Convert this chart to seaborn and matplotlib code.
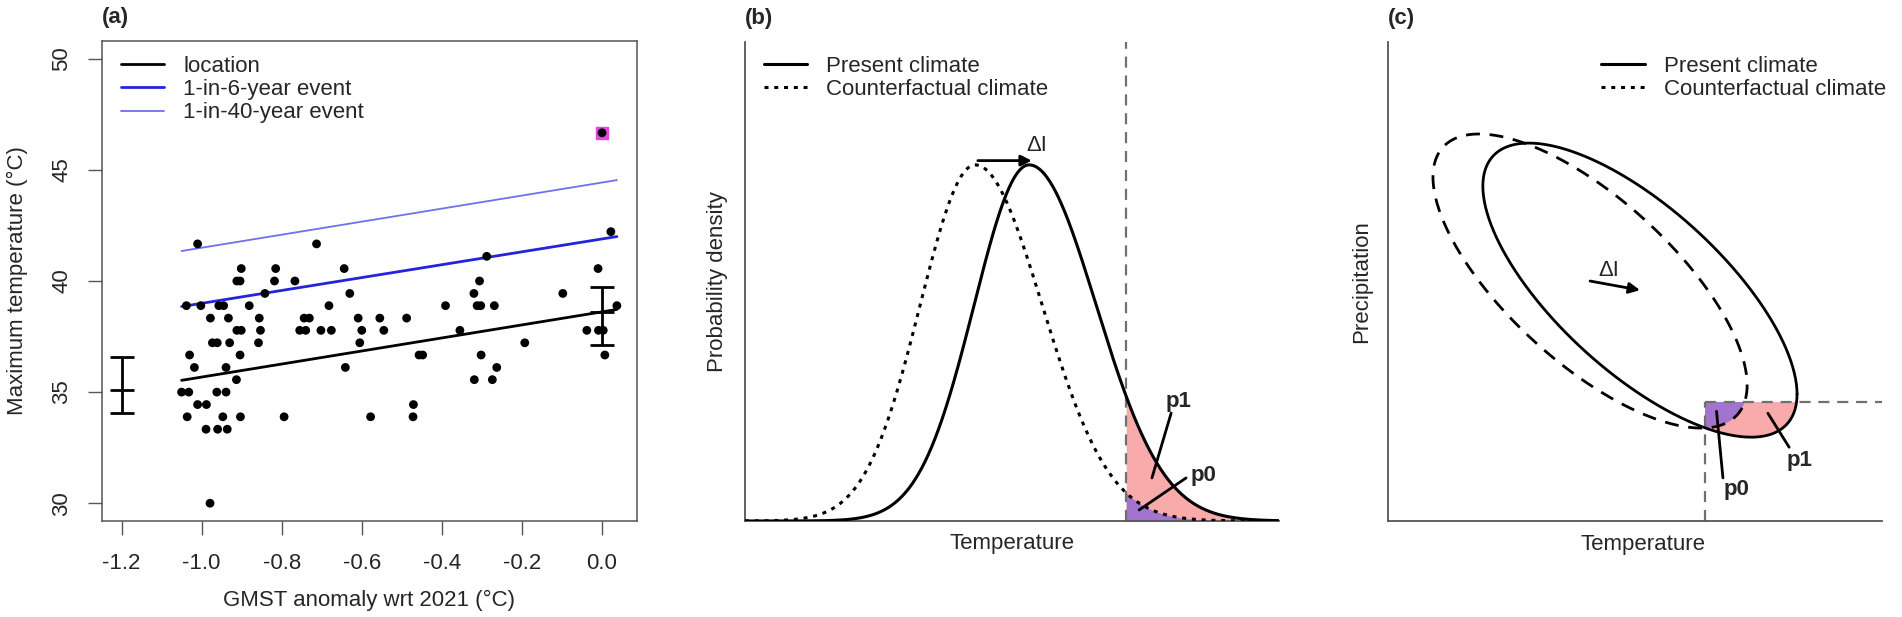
import numpy as np
import matplotlib
matplotlib.use("Agg")
import matplotlib.pyplot as plt
import seaborn as sns
from matplotlib.patches import Polygon, Rectangle

# ---------- panel (a) : observations ----------
gmst = [-1.010, -1.050, -1.032, -1.038, -1.036, -1.030, -1.018, -1.010, -1.002, -0.988,
        -0.989, -0.979, -0.978, -0.973, -0.961, -0.962, -0.960, -0.957, -0.945, -0.947,
        -0.939, -0.939, -0.936, -0.933, -0.930, -0.913, -0.912, -0.904, -0.901, -0.912,
        -0.901, -0.904, -0.903, -0.881, -0.858, -0.856, -0.853, -0.842, -0.815, -0.818,
        -0.794, -0.767, -0.755, -0.744, -0.740, -0.731, -0.713, -0.702, -0.682, -0.676,
        -0.644, -0.630, -0.641, -0.609, -0.600, -0.605, -0.578, -0.555, -0.545, -0.488,
        -0.471, -0.472, -0.457, -0.448, -0.391, -0.355, -0.320, -0.306, -0.312, -0.303,
        -0.288, -0.302, -0.319, -0.269, -0.263, -0.274, -0.193, 0.022, -0.010, -0.098,
        0.037, -0.038, -0.009, 0.003, 0.007]
tmax = [41.67, 35.00, 35.00, 38.89, 33.89, 36.67, 36.11, 34.44, 38.89, 34.44,
        33.33, 30.00, 38.33, 37.22, 37.22, 35.00, 33.33, 38.89, 38.89, 33.89,
        35.00, 36.11, 33.33, 38.33, 37.22, 35.56, 40.00, 40.00, 40.56, 37.78,
        37.78, 36.67, 33.89, 38.89, 37.22, 38.33, 37.78, 39.44, 40.56, 40.00,
        33.89, 40.00, 37.78, 38.33, 37.78, 38.33, 41.67, 37.78, 38.89, 37.78,
        40.56, 39.44, 36.11, 38.33, 37.78, 37.22, 33.89, 38.33, 37.78, 38.33,
        34.44, 33.89, 36.67, 36.67, 38.89, 37.78, 39.44, 40.00, 38.89, 38.89,
        41.11, 36.67, 35.56, 38.89, 36.11, 35.56, 37.22, 42.22, 40.56, 39.44,
        38.89, 37.78, 37.78, 37.78, 36.67]
event_gmst = [0.0]
event_tmax = [46.67]

fit_x = [-1.05, 0.037]
location_fit = [35.53, 38.72]
rp6_fit = [38.85, 42.00]
rp40_fit = [41.35, 44.54]

err_x = [-1.2, 0.0]
err_mid = [35.09, 38.62]
err_lo = [34.06, 37.13]
err_hi = [36.60, 39.73]

x_ticks_a = [-1.2, -1.0, -0.8, -0.6, -0.4, -0.2, 0.0]
y_ticks_a = [30, 35, 40, 45, 50]

# ---------- panel (b) : schematic pdfs ----------
present_mode = 5.32
counter_mode = 4.31
sd_left = 1.03
sd_right = 1.255
threshold_b = 7.135
p1_line_b = ([7.98, 7.62], [0.303, 0.121])
p0_line_b = ([8.26, 7.38], [0.121, 0.031])

# ---------- panel (c) : schematic bivariate ----------
present_centre = (5.10, 4.82)
counter_centre = (4.09, 5.01)
half_x, half_y = 3.18, 3.07
phase = np.pi / 4
thr_temp_c = 6.41
thr_prec_c = 2.49
p1_line_c = ([7.69, 8.12], [2.25, 1.54])
p0_line_c = ([6.65, 6.78], [2.29, 0.90])

pink = "#F9AAAA"
purple = "#A274CF"
txt = "#262626"
axcol = "#555555"

sns.set_theme(style="white")
plt.rcParams["font.family"] = ["Liberation Sans", "DejaVu Sans"]
plt.rcParams["axes.unicode_minus"] = False
plt.rcParams["text.color"] = txt
plt.rcParams["axes.labelcolor"] = txt
plt.rcParams["xtick.color"] = axcol
plt.rcParams["ytick.color"] = axcol
plt.rcParams["xtick.labelcolor"] = txt
plt.rcParams["ytick.labelcolor"] = txt
fs = 16

fig = plt.figure(figsize=(19.02, 6.17), dpi=100)
ax_a = fig.add_axes([0.05347, 0.15559, 0.28128, 0.77796])
ax_b = fig.add_axes([0.3917, 0.15559, 0.28076, 0.7763])
ax_c = fig.add_axes([0.72976, 0.15559, 0.25973, 0.7763])

# ---------------- (a) ----------------
ax = ax_a
sns.lineplot(x=fit_x, y=location_fit, ax=ax, color="black", lw=2, label="location")
sns.lineplot(x=fit_x, y=rp6_fit, ax=ax, color="#2424DD", lw=2, label="1-in-6-year event")
sns.lineplot(x=fit_x, y=rp40_fit, ax=ax, color="#7070EE", lw=1.3, label="1-in-40-year event")
ax.scatter(event_gmst, event_tmax, marker="s", s=85, color="#E046E0", zorder=3)
sns.scatterplot(x=gmst + event_gmst, y=tmax + event_tmax, ax=ax, color="black",
                s=40, edgecolor="none", zorder=4)
ax.errorbar(err_x, err_mid,
            yerr=[np.subtract(err_mid, err_lo), np.subtract(err_hi, err_mid)],
            fmt="none", ecolor="black", elinewidth=2, capsize=8.5, capthick=2, zorder=5)
ax.scatter(err_x, err_mid, marker="_", s=290, color="black", linewidths=2, zorder=5)

ax.set_xlim(-1.2495, 0.0865)
ax.set_ylim(29.2, 50.8)
ax.set_xticks(x_ticks_a)
ax.set_xticklabels([f"{v:.1f}" for v in x_ticks_a])
ax.set_yticks(y_ticks_a)
ax.set_yticklabels([str(v) for v in y_ticks_a], rotation=90, va="center")
ax.tick_params(axis="both", which="both", direction="out", length=10, width=1,
               labelsize=fs, bottom=True, left=True)
ax.tick_params(axis="x", pad=13)
ax.tick_params(axis="y", pad=11)
for s in ax.spines.values():
    s.set_color(axcol)
    s.set_linewidth(1.1)
ax.set_xlabel("GMST anomaly wrt 2021 (°C)", fontsize=fs)
ax.set_ylabel("Maximum temperature (°C)", fontsize=fs)
ax.xaxis.set_label_coords(0.5, -0.165)
ax.xaxis.label.set_va("center")
ax.yaxis.set_label_coords(-0.158, 0.5)
ax.yaxis.label.set_va("center")
ax.legend(loc="upper left", bbox_to_anchor=(0.036, 0.969), frameon=False, fontsize=fs,
          borderpad=0, borderaxespad=0, handlelength=1.95, handletextpad=0.85,
          labelspacing=0.1)
ax.text(0, 1.048, "(a)", transform=ax.transAxes, ha="left", va="center",
        fontsize=fs, fontweight="bold")


def split_normal(x, mode):
    sd = np.where(x < mode, sd_left, sd_right)
    return np.exp(-0.5 * ((x - mode) / sd) ** 2)


# ---------------- (b) ----------------
ax = ax_b
temp = np.linspace(0, 10, 801)
present = split_normal(temp, present_mode)
counter = split_normal(temp, counter_mode)
tail = temp >= threshold_b
ax.fill_between(temp[tail], 0, present[tail], color=pink, lw=0, zorder=1)
ax.fill_between(temp[tail], 0, counter[tail], color=purple, lw=0, zorder=1)
sns.lineplot(x=temp, y=present, ax=ax, color="black", lw=2.2, label="Present climate", zorder=3)
sns.lineplot(x=temp, y=counter, ax=ax, color="black", lw=2.2, linestyle=(0, (1.3, 1.9)),
             label="Counterfactual climate", zorder=3)
ax.axvline(threshold_b, color="#707070", lw=1.6, linestyle=(0, (5, 3.5)), zorder=2)
ax.annotate("", xy=(present_mode + 0.05, 1.012), xytext=(counter_mode + 0.05, 1.012),
            arrowprops=dict(arrowstyle="-|>", color="black", lw=2, mutation_scale=16,
                            shrinkA=0, shrinkB=0))
ax.text(5.46, 1.055, "ΔI", fontsize=fs, ha="center", va="center")
ax.plot(*p1_line_b, color="black", lw=2)
ax.plot(*p0_line_b, color="black", lw=2)
ax.text(7.87, 0.335, "p1", fontsize=fs, fontweight="bold", ha="left", va="center")
ax.text(8.35, 0.128, "p0", fontsize=fs, fontweight="bold", ha="left", va="center")
ax.set_xlim(0, 10)
ax.set_ylim(0, 1.345)
ax.set_xticks([])
ax.set_yticks([])
ax.set_xlabel("Temperature", fontsize=fs)
ax.set_ylabel("Probability density", fontsize=fs)
ax.xaxis.set_label_coords(0.5, -0.048)
ax.xaxis.label.set_va("center")
ax.yaxis.set_label_coords(-0.0506, 0.5)
ax.yaxis.label.set_va("center")
ax.legend(loc="upper left", bbox_to_anchor=(0.0356, 0.971), frameon=False, fontsize=fs,
          borderpad=0, borderaxespad=0, handlelength=1.95, handletextpad=0.85,
          labelspacing=0.1)
ax.text(0, 1.05, "(b)", transform=ax.transAxes, ha="left", va="center",
        fontsize=fs, fontweight="bold")
for side in ["top", "right"]:
    ax.spines[side].set_visible(False)
for side in ["left", "bottom"]:
    ax.spines[side].set_color(axcol)
    ax.spines[side].set_linewidth(1.3)

# ---------------- (c) ----------------
ax = ax_c
t = np.linspace(0, 2 * np.pi, 400)


def contour(centre):
    return centre[0] + half_x * np.cos(t), centre[1] - half_y * np.cos(t - phase)


px, py = contour(present_centre)
cx, cy = contour(counter_centre)
quadrant = Rectangle((thr_temp_c, -1), 12, thr_prec_c + 1, transform=ax.transData)
for xs, ys, col in [(px, py, pink), (cx, cy, purple)]:
    patch = Polygon(np.column_stack([xs, ys]), closed=True, facecolor=col,
                    edgecolor="none", zorder=1)
    ax.add_patch(patch)
    patch.set_clip_path(quadrant)
sns.lineplot(x=px, y=py, ax=ax, sort=False, estimator=None, color="black", lw=2,
             zorder=3)
sns.lineplot(x=cx, y=cy, ax=ax, sort=False, estimator=None, color="black", lw=2,
             linestyle=(0, (5, 3.5)), zorder=3)
ax.plot([thr_temp_c, thr_temp_c], [0, thr_prec_c], color="#707070", lw=1.6,
        linestyle=(0, (5, 3.5)), zorder=2)
ax.plot([thr_temp_c, 10], [thr_prec_c, thr_prec_c], color="#707070", lw=1.6,
        linestyle=(0, (5, 3.5)), zorder=2)
ax.plot([], [], color="black", lw=2.2, label="Present climate")
ax.plot([], [], color="black", lw=2.2, linestyle=(0, (1.3, 1.9)),
        label="Counterfactual climate")
ax.annotate("", xy=present_centre, xytext=counter_centre,
            arrowprops=dict(arrowstyle="-|>", color="black", lw=2, mutation_scale=16,
                            shrinkA=0, shrinkB=0))
ax.text(4.47, 5.24, "ΔI", fontsize=fs, ha="center", va="center")
ax.plot(*p1_line_c, color="black", lw=2)
ax.plot(*p0_line_c, color="black", lw=2)
ax.text(8.32, 1.26, "p1", fontsize=fs, fontweight="bold", ha="center", va="center")
ax.text(7.06, 0.65, "p0", fontsize=fs, fontweight="bold", ha="center", va="center")
ax.set_xlim(0, 10)
ax.set_ylim(0, 10)
ax.set_xticks([])
ax.set_yticks([])
ax.set_xlabel("Temperature", fontsize=fs)
ax.set_ylabel("Precipitation", fontsize=fs)
ax.xaxis.set_label_coords(0.516, -0.05)
ax.xaxis.label.set_va("center")
ax.yaxis.set_label_coords(-0.0526, 0.5)
ax.yaxis.label.set_va("center")
ax.legend(loc="upper left", bbox_to_anchor=(0.432, 0.971), frameon=False, fontsize=fs,
          borderpad=0, borderaxespad=0, handlelength=1.95, handletextpad=0.85,
          labelspacing=0.1)
ax.text(0, 1.05, "(c)", transform=ax.transAxes, ha="left", va="center",
        fontsize=fs, fontweight="bold")
for side in ["top", "right"]:
    ax.spines[side].set_visible(False)
for side in ["left", "bottom"]:
    ax.spines[side].set_color(axcol)
    ax.spines[side].set_linewidth(1.3)

fig.savefig("out.png", dpi=100)
